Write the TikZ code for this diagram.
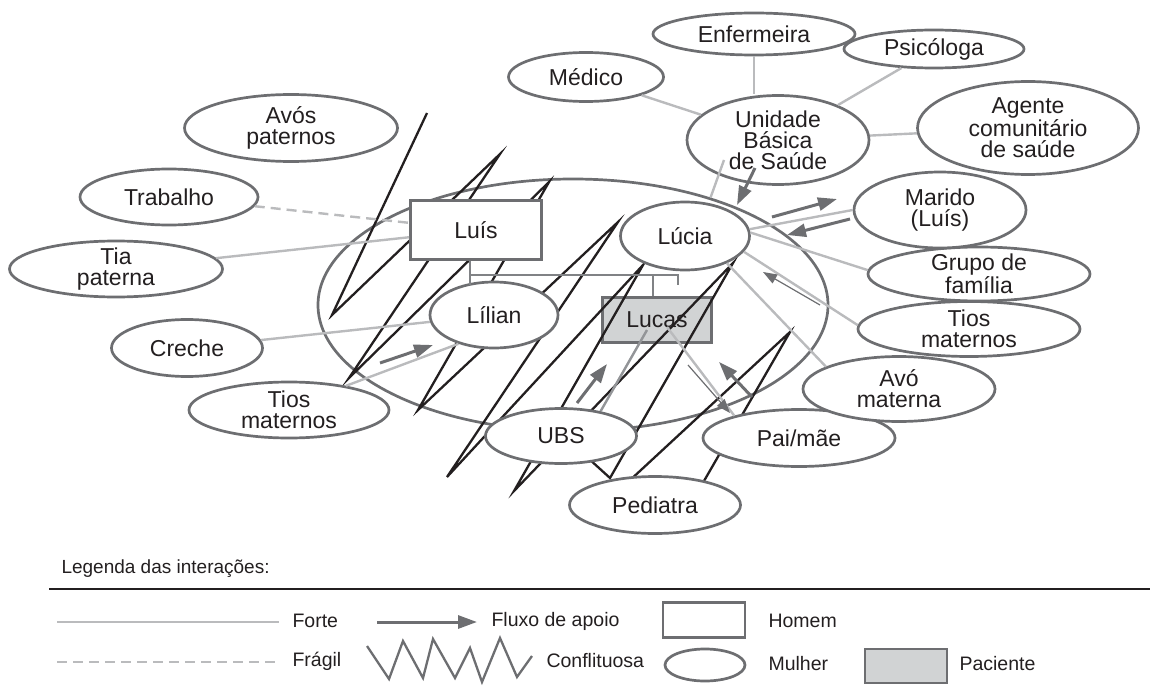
\documentclass[tikz,border=0pt]{standalone}
\usepackage{fontspec}
\setmainfont{Liberation Sans}
\usetikzlibrary{arrows.meta,shapes.geometric,calc}

\definecolor{edgegray}{RGB}{109,110,113}
\definecolor{strongcol}{RGB}{186,187,189}
\definecolor{inkblack}{RGB}{35,31,32}
\definecolor{patfill}{RGB}{209,211,212}
\definecolor{famgray}{RGB}{128,130,133}
\definecolor{midgray}{RGB}{147,149,152}

\begin{document}
\begin{tikzpicture}[
  x=1pt, y=-1pt,
  every node/.style={align=center, text=inkblack, font=\fontsize{23}{21}\selectfont},
  woman/.style={ellipse, draw=edgegray, line width=2.7pt, fill=white, inner sep=-8pt},
  man/.style={rectangle, draw=edgegray, line width=2.7pt, fill=white, inner sep=0pt},
  patient/.style={man, fill=patfill},
  strong/.style={draw=strongcol, line width=2.4pt},
  fragile/.style={strong, dash pattern=on 10pt off 6pt},
  support/.style={draw=edgegray, line width=3pt, -{Triangle[length=19pt,width=13pt]}},
  thinarrow/.style={draw=edgegray, line width=1.2pt, -{Triangle[length=14pt,width=10pt]}},
  conflict/.style={draw=inkblack, line width=2.3pt},
  family/.style={draw=famgray, line width=2.6pt},
  legtext/.style={anchor=west, font=\fontsize{19.5}{22}\selectfont},
]
\useasboundingbox (0,0) rectangle (1158,695);

% the household
\node[ellipse, draw=edgegray, line width=2.7pt, inner sep=0pt,
      minimum width=510pt, minimum height=252pt] (fam) at (573,305) {};
\node[patient, minimum width=109pt, minimum height=45pt] (lucas) at (657,320) {Lucas};

% conflict between the members
\draw[conflict] (427,113) -- (332,315) -- (500,154) -- (349,378) -- (549,182)
  -- (418,410) -- (618,222) -- (447,477) -- (643,265) -- (514,491) -- (733,263)
  -- (610,478) -- (588,458);
\draw[conflict] (614,495) -- (790,332) -- (693,500);

\node[woman, minimum width=213pt, minimum height=67pt] (avos) at (291,128) {Avós\\paternos};
\node[woman, minimum width=178pt, minimum height=56pt] (trab) at (169,197) {Trabalho};
\node[woman, minimum width=213pt, minimum height=56pt] (tiap) at (116,269) {Tia\\paterna};
\node[woman, minimum width=151pt, minimum height=57pt] (creche) at (187,348) {Creche};
\node[woman, minimum width=200pt, minimum height=56pt] (tiosL) at (289,410) {Tios\\maternos};
\node[man, minimum width=131pt, minimum height=59pt] (luis) at (476,230) {Luís};
\node[woman, minimum width=128pt, minimum height=66pt] (lilian) at (494,315) {Lílian};
\node[woman, minimum width=129pt, minimum height=68pt] (lucia) at (685,236) {Lúcia};
\node[woman, minimum width=151pt, minimum height=55pt] (ubs) at (561,436) {UBS};
\node[woman, minimum width=171pt, minimum height=57pt] (pedi) at (655,505) {Pediatra};
\node[woman, minimum width=192pt, minimum height=57pt] (pai) at (799,438) {Pai/mãe};
\node[woman, minimum width=192pt, minimum height=65pt] (avom) at (899,389) {Avó\\materna};
\node[woman, minimum width=222pt, minimum height=55pt] (tiosR) at (969,329) {Tios\\maternos};
\node[woman, minimum width=222pt, minimum height=54pt] (grupo) at (979,274) {Grupo de\\família};
\node[woman, minimum width=172pt, minimum height=76pt] (marido) at (940,210) {Marido\\(Luís)};
\node[woman, minimum width=182pt, minimum height=89pt] (ubsaude) at (778,140) {Unidade\\Básica\\de Saúde};
\node[woman, minimum width=155pt, minimum height=49pt] (medico) at (586,77) {Médico};
\node[woman, minimum width=202pt, minimum height=42pt] (enf) at (754,34) {Enfermeira};
\node[woman, minimum width=180pt, minimum height=38pt] (psi) at (934,49) {Psicóloga};
\node[woman, minimum width=221pt, minimum height=93pt] (agente) at (1028,128) {Agente\\comunitário\\de saúde};

% bonds
\draw[fragile] (trab) -- (luis);
\draw[strong] (tiap) -- (luis);
\draw[strong] (creche) -- (lilian);
\draw[strong] (tiosL.23) -- (lilian.219);
\draw[strong] (medico) -- (ubsaude);
\draw[strong] (enf.south) -- (enf.south |- ubsaude.north);
\draw[strong] (psi) -- (ubsaude);
\draw[strong] (agente) -- (ubsaude);
\draw[strong] ($(ubsaude)+(-54,20)$) -- (fam.38);
\draw[strong] (lucia.6) -- (marido.180);
\draw[strong] (lucia.3) -- (grupo.178);
\draw[strong] (lucia.345) -- (tiosR.178);
\draw[strong] (lucia.327) -- (avom.163);
\draw[strong] ($(lucas)+(10,7)$) -- (pai.161);
\draw[strong, draw=midgray] ($(lucas)+(-10,10)$) -- (ubs.32);

% parents and children
\coordinate (bar) at ($(luis.south)+(-6,14)$);
\draw[family] ($(luis.south)+(-6,0)$) -- ++(0,24);
\draw[family] (bar) -- ($(bar -| lucia.south)+(-7,0)$) -- ++(0,10);
\draw[family] ($(lucas.north)+(-4,0)$) -- ($(bar -| lucas.north)+(-4,0)$);

% support flow
\coordinate (a1s) at (772,217); \coordinate (a1e) at (837,199);
\coordinate (a2s) at (850,219); \coordinate (a2e) at (787,235);
\coordinate (a3s) at (755,168); \coordinate (a3e) at (737,205);
\coordinate (a4s) at (380,363); \coordinate (a4e) at (433,345);
\coordinate (a5s) at (577,403); \coordinate (a5e) at (607,364);
\coordinate (a6s) at (752,397); \coordinate (a6e) at (719,362);
\coordinate (t1s) at (820,305); \coordinate (t1e) at (763,272);
\coordinate (t2s) at (688,365); \coordinate (t2e) at (730,413);
\draw[support] (a1s) -- (a1e);
\draw[support] (a2s) -- (a2e);
\draw[support] (a3s) -- (a3e);
\draw[support] (a4s) -- (a4e);
\draw[support] (a5s) -- (a5e);
\draw[support] (a6s) -- (a6e);
\draw[thinarrow] (t1s) -- (t1e);
\draw[thinarrow] (t2s) -- (t2e);

% legend
\node[legtext, font=\fontsize{19}{22}\selectfont] (legtitle) at (58,569) {Legenda das interações:};
\draw[draw=inkblack, line width=1.6pt] (49,589) -- (1150,589);
\draw[strong] (57,622) -- (279,622);
\node[legtext] (lforte) at (289,621) {Forte};
\draw[fragile] (57,662) -- (279,662);
\node[legtext] (lfragil) at (289,661) {Frágil};
\draw[support] (377,622) -- (477,622);
\node[legtext] (lfluxo) at (488,621) {Fluxo de apoio};
\draw[conflict, draw=edgegray] (367,646) -- (389,679) -- (403,641) -- (423,678) -- (433,639)
  -- (455,678) -- (470,648) -- (482,682) -- (500,638) -- (517,677) -- (532,656);
\node[legtext] (lconf) at (543,661) {Conflituosa};
\node[man, minimum width=82pt, minimum height=35pt] (lhomem) at (704,620) {};
\node[legtext] (lhomemt) at (765,621) {Homem};
\node[woman, inner sep=0pt, minimum width=80pt, minimum height=32pt] (lmulher) at (705,665) {};
\node[legtext] (lmulhert) at (765,664) {Mulher};
\node[patient, minimum width=82pt, minimum height=34pt] (lpac) at (906,666) {};
\node[legtext] (lpact) at (956,664) {Paciente};
\end{tikzpicture}
\end{document}
